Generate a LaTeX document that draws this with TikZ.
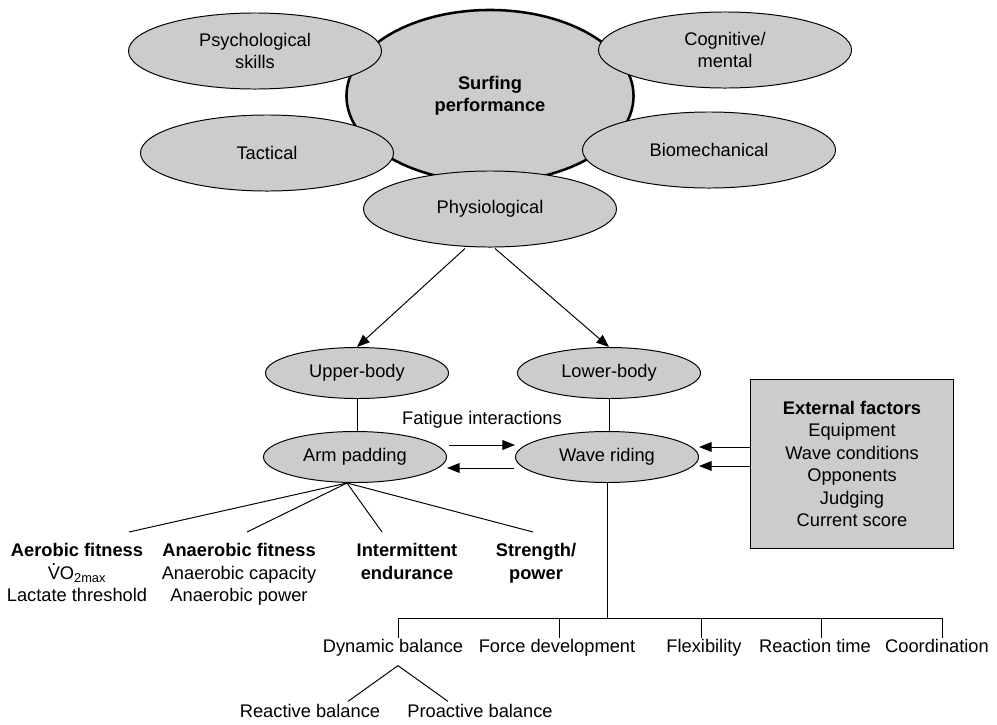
\documentclass[tikz,border=0pt]{standalone}
\usepackage{fontspec}
\setmainfont{Liberation Sans}
\usetikzlibrary{shapes.geometric,arrows.meta,calc}
\definecolor{ellgray}{RGB}{204,204,204}
\newcommand{\vomax}{\makebox[0pt][l]{\hspace{0.2em}\raisebox{0.72em}{.}}VO\textsubscript{2max}}
\begin{document}
\begin{tikzpicture}[x=0.025cm, y=-0.025cm,
  every node/.style={font=\fontsize{13pt}{16pt}\selectfont},
  ell/.style={ellipse, draw, fill=ellgray, line width=0.7pt, inner sep=0pt, align=center},
  bigell/.style={ell, line width=1.8pt, minimum width=7.175cm, minimum height=4.3cm,
    font=\fontsize{13pt}{16pt}\selectfont\bfseries},
  topell/.style={ell, minimum width=6.325cm, minimum height=1.9cm},
  lowell/.style={ell, minimum width=4.575cm, minimum height=1.275cm},
  ln/.style={line width=0.7pt},
  arr/.style={line width=0.7pt, -{Triangle[length=9pt,width=7pt]}},
  lab/.style={inner sep=0pt, text height=0.7em, text depth=0.2em},
  blk/.style={inner sep=0pt, align=center, anchor=north},
  extbox/.style={draw, fill=ellgray, line width=0.7pt, minimum width=5.075cm,
    minimum height=4.2cm, align=center, inner sep=0pt}]
\useasboundingbox (0,0) rectangle (997,724);

% top cluster
\node[bigell] (sp) at (490,96) {Surfing\\performance};
\node[topell] (psy) at (255,51) {Psychological\\skills};
\node[topell] (cog) at (725,50) {Cognitive/\\mental};
\node[topell] (tac) at (267,153) {Tactical};
\node[topell] (bio) at (709,150) {Biomechanical};
\node[topell] (phy) at (490,209) {Physiological};

% middle
\node[lowell] (ub) at (357,373) {Upper-body};
\node[lowell] (lb) at (609,373) {Lower-body};
\node[lowell] (ap) at (355,457) {Arm padding};
\node[lowell] (wr) at (607,457) {Wave riding};
\node[inner sep=0pt] (fi) at (482,420) {Fatigue interactions};
\node[extbox] (ext) at (852,464) {\textbf{External factors}\\Equipment\\Wave conditions\\Opponents\\Judging\\Current score};

\draw[arr] ($(phy.south)+(-25,1)$) -- (ub.north);
\draw[arr] ($(phy.south)+(5,1)$) -- (lb.north);
\draw[ln] (ub.south) -- (ub.south |- ap.north);
\draw[ln] (lb.south) -- (lb.south |- wr.north);
\draw[arr] ($(ap.east)+(2,-12)$) -- ($(wr.west)+(0,-12)$);
\draw[arr] ($(wr.west)+(-1,11)$) -- ($(ap.east)+(0,11)$);
\coordinate (e1) at ($(wr.east)+(0,-10)$);
\coordinate (e2) at ($(wr.east)+(0,9)$);
\draw[arr] (ext.west |- e1) -- (e1);
\draw[arr] (ext.west |- e2) -- (e2);

% arm padding fan
\coordinate (fan) at ($(ap.south)+(-8,0)$);
\node[blk] (aer) at (77,543) {\textbf{Aerobic fitness}\\\vomax\\Lactate threshold};
\node[blk] (ana) at (239,543) {\textbf{Anaerobic fitness}\\Anaerobic capacity\\Anaerobic power};
\node[blk] (int) at (407,543) {\textbf{Intermittent}\\\textbf{endurance}};
\node[blk] (str) at (536,543) {\textbf{Strength/}\\\textbf{power}};
\draw[ln] (fan) -- ($(aer.north)+(52,-11)$);
\draw[ln] (fan) -- ($(ana.north)+(8,-11)$);
\draw[ln] (fan) -- ($(int.north)+(-25,-11)$);
\draw[ln] (fan) -- ($(str.north)+(-3,-11)$);

% wave riding tree
\node[lab] (db) at (393,649) {Dynamic balance};
\node[lab] (fd) at (557,649) {Force development};
\node[lab] (fl) at (704,649) {Flexibility};
\node[lab] (rt) at (815,649) {Reaction time};
\node[lab] (co) at (937,649) {Coordination};
\node[lab] (rb) at (310,714) {Reactive balance};
\node[lab] (pb) at (480,714) {Proactive balance};

\coordinate (bl) at ($(db.north)+(5,-24)$);
\coordinate (br) at ($(co.north)+(5,-24)$);
\draw[ln] (wr.south) -- (wr.south |- bl);
\draw[ln] (bl) -- (br);
\draw[ln] (bl) -- ($(db.north)+(5,-4)$);
\draw[ln] (br) -- ($(co.north)+(5,-4)$);
\foreach \n/\d in {fd/2, fl/-3, rt/6}
  \draw[ln] ($(\n.north)+(\d,-24)$) -- ($(\n.north)+(\d,-4)$);
\coordinate (apex) at ($(db.south)+(5,10)$);
\draw[ln] ($(rb.north)+(38,-6)$) -- (apex) -- ($(pb.north)+(-32,-6)$);
\end{tikzpicture}
\end{document}
